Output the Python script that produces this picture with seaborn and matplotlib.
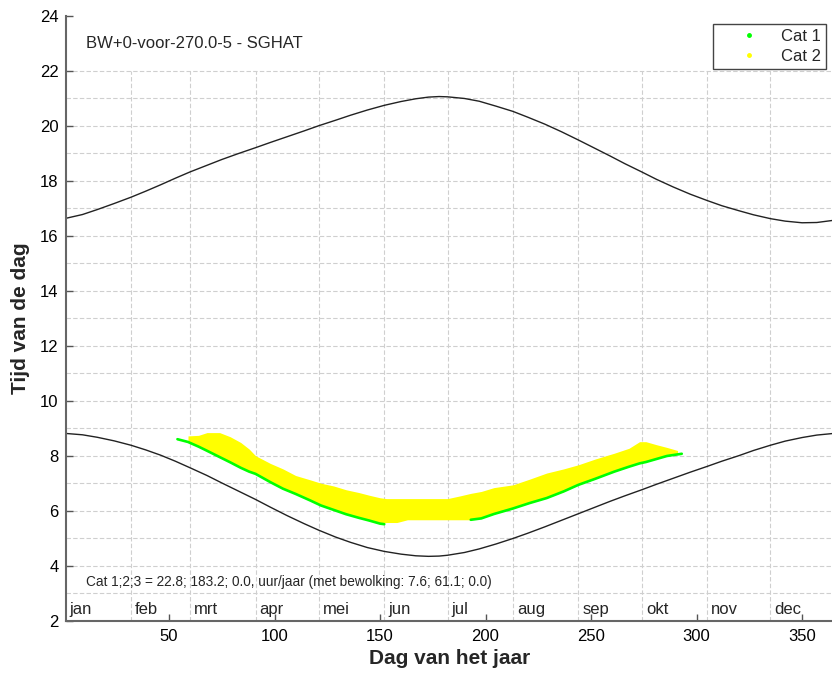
import numpy as np
import pandas as pd
import matplotlib
matplotlib.use('Agg')
import matplotlib.pyplot as plt
from matplotlib.lines import Line2D
import seaborn as sns

# day-of-year grid for the two sun curves
curve_days = [1, 9, 16, 24, 32, 39, 46, 53, 60, 68, 75, 83, 91, 98, 106, 114, 121,
              129, 136, 144, 152, 160, 167, 173, 178, 182, 190, 197, 205, 213, 220,
              228, 236, 244, 251, 259, 266, 274, 281, 289, 297, 305, 312, 320, 327,
              335, 342, 350, 357, 365]
sunset = [16.63, 16.77, 16.95, 17.17, 17.40, 17.62, 17.85, 18.09, 18.32, 18.56, 18.77,
          18.99, 19.20, 19.39, 19.60, 19.81, 20.00, 20.20, 20.38, 20.57, 20.74, 20.88,
          20.98, 21.04, 21.06, 21.05, 20.99, 20.89, 20.71, 20.52, 20.31, 20.06, 19.78,
          19.48, 19.21, 18.90, 18.62, 18.32, 18.05, 17.77, 17.51, 17.28, 17.09, 16.91,
          16.76, 16.62, 16.53, 16.47, 16.48, 16.56]
sunrise = [8.81, 8.76, 8.67, 8.54, 8.38, 8.21, 8.02, 7.80, 7.56, 7.28, 7.01, 6.71,
           6.41, 6.13, 5.82, 5.53, 5.29, 5.04, 4.85, 4.66, 4.52, 4.42, 4.36, 4.34,
           4.35, 4.38, 4.48, 4.61, 4.79, 4.99, 5.18, 5.41, 5.65, 5.89, 6.10, 6.34,
           6.54, 6.76, 6.96, 7.18, 7.40, 7.61, 7.80, 8.00, 8.19, 8.38, 8.53, 8.66,
           8.75, 8.81]

# Cat 2 band (yellow)
cat2_days = [59, 64, 68, 74, 79, 84, 88, 91, 98, 104, 110, 117, 122, 128, 134, 140,
             145, 150, 153, 158, 163, 170, 176, 182, 188, 193, 198, 204, 213, 221,
             229, 237, 244, 252, 261, 268, 273, 276, 281, 286, 291]
cat2_top = [8.72, 8.74, 8.84, 8.84, 8.69, 8.48, 8.24, 8.00, 7.72, 7.52, 7.28, 7.12,
            7.00, 6.90, 6.76, 6.66, 6.56, 6.47, 6.44, 6.44, 6.44, 6.44, 6.44, 6.44,
            6.54, 6.63, 6.70, 6.84, 6.94, 7.15, 7.37, 7.52, 7.67, 7.88, 8.09, 8.27,
            8.51, 8.51, 8.40, 8.30, 8.19]
cat2_bottom = [8.50, 8.33, 8.18, 7.95, 7.76, 7.56, 7.42, 7.34, 7.04, 6.80, 6.61, 6.37,
               6.19, 6.03, 5.87, 5.74, 5.64, 5.53, 5.57, 5.57, 5.67, 5.67, 5.67, 5.67,
               5.67, 5.67, 5.72, 5.88, 6.08, 6.28, 6.46, 6.70, 6.94, 7.16, 7.42, 7.60,
               7.72, 7.77, 7.88, 7.99, 8.05]

# Cat 1 (green), two stretches
cat1a_days = [54, 59, 64, 68, 74, 79, 84, 88, 91, 98, 104, 110, 117, 122, 128, 134,
              140, 145, 150, 152]
cat1a_time = [8.60, 8.50, 8.33, 8.18, 7.95, 7.76, 7.56, 7.42, 7.34, 7.04, 6.80, 6.61,
              6.37, 6.19, 6.03, 5.87, 5.74, 5.64, 5.53, 5.51]
cat1b_days = [193, 198, 204, 213, 221, 229, 237, 244, 252, 261, 268, 273, 276, 281,
              286, 293]
cat1b_time = [5.67, 5.72, 5.88, 6.08, 6.28, 6.46, 6.70, 6.94, 7.16, 7.42, 7.60, 7.72,
              7.77, 7.88, 7.99, 8.07]

month_starts = [1, 32, 60, 91, 121, 152, 182, 213, 244, 274, 305, 335]
month_names = ['jan', 'feb', 'mrt', 'apr', 'mei', 'jun', 'jul', 'aug', 'sep', 'okt',
               'nov', 'dec']

title_txt = 'BW+0-voor-270.0-5 - SGHAT'
info_txt = 'Cat 1;2;3 = 22.8; 183.2; 0.0, uur/jaar (met bewolking: 7.6; 61.1; 0.0)'

sns.set_theme(style='white')
plt.rcParams['font.family'] = ['Liberation Sans', 'DejaVu Sans']

fig = plt.figure(figsize=(8.32, 6.75), dpi=100)
ax = fig.add_axes([65.6 / 832, 1 - 620.7 / 675, (833.7 - 65.6) / 832, (620.7 - 15.7) / 675])

grid_kw = dict(colors='#cfcfcf', linestyles=(0, (4, 2)), linewidth=0.8, zorder=0)
ax.hlines(np.arange(3, 23), 1, 365, **grid_kw)
ax.vlines(month_starts[1:], 2, 22, **grid_kw)

curves = pd.DataFrame({'dag': curve_days, 'op': sunrise, 'onder': sunset})
sns.lineplot(data=curves, x='dag', y='onder', color='#222222', linewidth=1, ax=ax, zorder=2)
sns.lineplot(data=curves, x='dag', y='op', color='#222222', linewidth=1, ax=ax, zorder=2)

ax.fill_between(cat2_days, cat2_bottom, cat2_top, color='#ffff00', linewidth=0, zorder=3)
green = dict(color='#00ff00', linewidth=1.9, ax=ax, zorder=4)
sns.lineplot(x=cat1a_days, y=cat1a_time, **green)
sns.lineplot(x=cat1b_days, y=cat1b_time, **green)

ax.set_xlim(1, 365)
ax.set_ylim(2, 24)
ax.set_xticks(range(50, 351, 50))
ax.set_yticks(range(2, 25, 2))
ax.tick_params(direction='in', length=5, width=1, color='#555555', labelsize=12,
               labelcolor='black')
ax.tick_params(axis='x', pad=6)
ax.tick_params(axis='y', pad=5)
ax.tick_params(bottom=True, left=True)
for s in ['top', 'right']:
    ax.spines[s].set_visible(False)
for s in ['left', 'bottom']:
    ax.spines[s].set_color('#666666')
    ax.spines[s].set_linewidth(1.5)

ax.set_xlabel('Dag van het jaar', fontsize=15, fontweight='bold')
ax.set_ylabel('Tijd van de dag', fontsize=15, fontweight='bold')
ax.xaxis.set_label_coords(0.5, -0.047)
ax.yaxis.set_label_coords(-0.046, 0.5)

for d, name in zip(month_starts, month_names):
    ax.text(d + 2, 2.42, name, fontsize=12, va='center', ha='left')
ax.text(10.5, 23.0, title_txt, fontsize=12, va='center', ha='left')
ax.text(10.5, 3.42, info_txt, fontsize=9.8, va='center', ha='left')

handles = [Line2D([], [], ls='none', marker='.', markersize=5, color='#00ff00'),
           Line2D([], [], ls='none', marker='.', markersize=5, color='#ffff00')]
leg = ax.legend(handles, ['Cat 1', 'Cat 2'], loc='upper right',
                bbox_to_anchor=(826 / 832, 1 - 24 / 675), bbox_transform=fig.transFigure,
                fontsize=12, frameon=True, fancybox=False, framealpha=1,
                handlelength=3.7, handletextpad=0.1, borderpad=0.3, labelspacing=0.3,
                borderaxespad=0)
leg.get_frame().set_edgecolor('#444444')
leg.get_frame().set_linewidth(1)

fig.savefig('out.png', dpi=100)
